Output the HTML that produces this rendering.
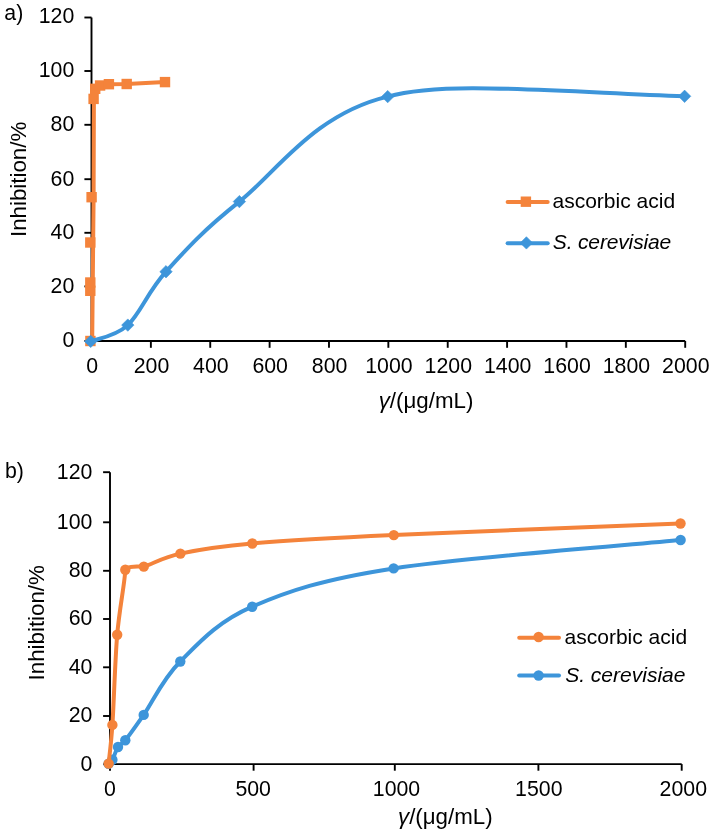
<!DOCTYPE html>
<html><head><meta charset="utf-8"><style>
html,body{margin:0;padding:0;background:#fff;}
svg{display:block;will-change:transform;}
text{font-family:"Liberation Sans",sans-serif;fill:#000;}
</style></head><body>
<svg width="711" height="834" viewBox="0 0 711 834">
<path d="M91.5,17.5 V341.0 H685.20" fill="none" stroke="#000" stroke-width="1.9" stroke-linejoin="miter"/>
<line x1="84.4" y1="340.9" x2="91.5" y2="340.9" stroke="#000" stroke-width="1.9"/>
<text x="74.3" y="347.3" text-anchor="end" font-size="21.3">0</text>
<line x1="84.4" y1="286.4" x2="91.5" y2="286.4" stroke="#000" stroke-width="1.9"/>
<text x="74.3" y="292.8" text-anchor="end" font-size="21.3">20</text>
<line x1="84.4" y1="232.8" x2="91.5" y2="232.8" stroke="#000" stroke-width="1.9"/>
<text x="74.3" y="239.2" text-anchor="end" font-size="21.3">40</text>
<line x1="84.4" y1="179.2" x2="91.5" y2="179.2" stroke="#000" stroke-width="1.9"/>
<text x="74.3" y="185.6" text-anchor="end" font-size="21.3">60</text>
<line x1="84.4" y1="124.8" x2="91.5" y2="124.8" stroke="#000" stroke-width="1.9"/>
<text x="74.3" y="131.2" text-anchor="end" font-size="21.3">80</text>
<line x1="84.4" y1="71.0" x2="91.5" y2="71.0" stroke="#000" stroke-width="1.9"/>
<text x="74.3" y="77.4" text-anchor="end" font-size="21.3">100</text>
<line x1="84.4" y1="17.5" x2="91.5" y2="17.5" stroke="#000" stroke-width="1.9"/>
<text x="74.3" y="23.1" text-anchor="end" font-size="21.3">120</text>
<text x="92.10" y="372.7" text-anchor="middle" font-size="21.3">0</text>
<line x1="150.87" y1="341.0" x2="150.87" y2="347.8" stroke="#000" stroke-width="1.9"/>
<text x="151.47" y="372.7" text-anchor="middle" font-size="21.3">200</text>
<line x1="210.24" y1="341.0" x2="210.24" y2="347.8" stroke="#000" stroke-width="1.9"/>
<text x="210.84" y="372.7" text-anchor="middle" font-size="21.3">400</text>
<line x1="269.61" y1="341.0" x2="269.61" y2="347.8" stroke="#000" stroke-width="1.9"/>
<text x="270.21" y="372.7" text-anchor="middle" font-size="21.3">600</text>
<line x1="328.98" y1="341.0" x2="328.98" y2="347.8" stroke="#000" stroke-width="1.9"/>
<text x="329.58" y="372.7" text-anchor="middle" font-size="21.3">800</text>
<line x1="388.35" y1="341.0" x2="388.35" y2="347.8" stroke="#000" stroke-width="1.9"/>
<text x="388.95" y="372.7" text-anchor="middle" font-size="21.3">1000</text>
<line x1="447.72" y1="341.0" x2="447.72" y2="347.8" stroke="#000" stroke-width="1.9"/>
<text x="448.32" y="372.7" text-anchor="middle" font-size="21.3">1200</text>
<line x1="507.09" y1="341.0" x2="507.09" y2="347.8" stroke="#000" stroke-width="1.9"/>
<text x="507.69" y="372.7" text-anchor="middle" font-size="21.3">1400</text>
<line x1="566.46" y1="341.0" x2="566.46" y2="347.8" stroke="#000" stroke-width="1.9"/>
<text x="567.06" y="372.7" text-anchor="middle" font-size="21.3">1600</text>
<line x1="625.83" y1="341.0" x2="625.83" y2="347.8" stroke="#000" stroke-width="1.9"/>
<text x="626.43" y="372.7" text-anchor="middle" font-size="21.3">1800</text>
<line x1="685.20" y1="341.0" x2="685.20" y2="347.8" stroke="#000" stroke-width="1.9"/>
<text x="685.80" y="372.7" text-anchor="middle" font-size="21.3">2000</text>
<path d="M92.20,341.00 L93.60,197.20 L93.90,98.90 L95.20,88.80 L100.10,85.50 L108.90,84.20 L126.70,84.00 L165.00,82.10" fill="none" stroke="#F4833B" stroke-width="4.0" stroke-linejoin="round" stroke-linecap="round"/>
<rect x="85.20" y="335.80" width="10.4" height="10.4" fill="#F4833B"/>
<rect x="85.10" y="285.60" width="10.4" height="10.4" fill="#F4833B"/>
<rect x="85.10" y="277.30" width="10.4" height="10.4" fill="#F4833B"/>
<rect x="85.10" y="237.30" width="10.4" height="10.4" fill="#F4833B"/>
<rect x="86.40" y="192.00" width="10.4" height="10.4" fill="#F4833B"/>
<rect x="88.40" y="93.70" width="10.4" height="10.4" fill="#F4833B"/>
<rect x="90.00" y="83.60" width="10.4" height="10.4" fill="#F4833B"/>
<rect x="94.90" y="80.30" width="10.4" height="10.4" fill="#F4833B"/>
<rect x="103.70" y="79.00" width="10.4" height="10.4" fill="#F4833B"/>
<rect x="121.50" y="78.80" width="10.4" height="10.4" fill="#F4833B"/>
<rect x="159.80" y="76.90" width="10.4" height="10.4" fill="#F4833B"/>
<path d="M90.70,341.40 C96.88,338.68 115.25,336.72 127.80,325.10 C140.35,313.48 147.40,292.28 166.00,271.70 C184.60,251.12 202.45,230.78 239.40,201.60 C276.35,172.42 313.50,114.15 387.70,96.60 C440.70,81.64 530.40,89.97 684.60,96.30" fill="none" stroke="#3D95DA" stroke-width="4.0" stroke-linejoin="round" stroke-linecap="round"/>
<path d="M90.70,335.20 L96.90,341.40 L90.70,347.60 L84.50,341.40Z" fill="#3D95DA" stroke="#3D95DA" stroke-width="0.6" stroke-linejoin="round"/>
<path d="M127.80,318.90 L134.00,325.10 L127.80,331.30 L121.60,325.10Z" fill="#3D95DA" stroke="#3D95DA" stroke-width="0.6" stroke-linejoin="round"/>
<path d="M166.00,265.50 L172.20,271.70 L166.00,277.90 L159.80,271.70Z" fill="#3D95DA" stroke="#3D95DA" stroke-width="0.6" stroke-linejoin="round"/>
<path d="M239.40,195.40 L245.60,201.60 L239.40,207.80 L233.20,201.60Z" fill="#3D95DA" stroke="#3D95DA" stroke-width="0.6" stroke-linejoin="round"/>
<path d="M387.70,90.40 L393.90,96.60 L387.70,102.80 L381.50,96.60Z" fill="#3D95DA" stroke="#3D95DA" stroke-width="0.6" stroke-linejoin="round"/>
<path d="M684.60,90.10 L690.80,96.30 L684.60,102.50 L678.40,96.30Z" fill="#3D95DA" stroke="#3D95DA" stroke-width="0.6" stroke-linejoin="round"/>
<line x1="507.6" y1="201.9" x2="547.7" y2="201.9" stroke="#F4833B" stroke-width="4.0" stroke-linecap="round"/>
<rect x="520.70" y="196.50" width="10.4" height="10.4" fill="#F4833B"/>
<text x="552.5" y="208.3" font-size="21.0">ascorbic acid</text>
<line x1="507.6" y1="243.2" x2="547.7" y2="243.2" stroke="#3D95DA" stroke-width="4.0" stroke-linecap="round"/>
<path d="M526.40,236.70 L532.60,242.90 L526.40,249.10 L520.20,242.90Z" fill="#3D95DA" stroke="#3D95DA" stroke-width="0.6" stroke-linejoin="round"/>
<text x="552.8" y="249.3" font-size="21.0" font-style="italic" letter-spacing="-0.15">S. cerevisiae</text>
<text x="4.3" y="20.3" font-size="21.3">a)</text>
<text transform="translate(25.9,237.0) rotate(-90)" font-size="22.3">Inhibition/%</text>
<text x="378.7" y="407.6" font-size="22.3"><tspan font-style="italic">γ</tspan>/(μg/mL)</text>
<path d="M110.0,472.2 V764.1 H681.70" fill="none" stroke="#000" stroke-width="1.9"/>
<line x1="103.1" y1="764.1" x2="110.0" y2="764.1" stroke="#000" stroke-width="1.9"/>
<text x="92.4" y="770.5" text-anchor="end" font-size="21.3">0</text>
<line x1="103.1" y1="716.0" x2="110.0" y2="716.0" stroke="#000" stroke-width="1.9"/>
<text x="92.4" y="722.4" text-anchor="end" font-size="21.3">20</text>
<line x1="103.1" y1="667.3" x2="110.0" y2="667.3" stroke="#000" stroke-width="1.9"/>
<text x="92.4" y="673.7" text-anchor="end" font-size="21.3">40</text>
<line x1="103.1" y1="619.0" x2="110.0" y2="619.0" stroke="#000" stroke-width="1.9"/>
<text x="92.4" y="625.4" text-anchor="end" font-size="21.3">60</text>
<line x1="103.1" y1="570.8" x2="110.0" y2="570.8" stroke="#000" stroke-width="1.9"/>
<text x="92.4" y="577.2" text-anchor="end" font-size="21.3">80</text>
<line x1="103.1" y1="522.3" x2="110.0" y2="522.3" stroke="#000" stroke-width="1.9"/>
<text x="92.4" y="528.7" text-anchor="end" font-size="21.3">100</text>
<line x1="103.1" y1="472.2" x2="110.0" y2="472.2" stroke="#000" stroke-width="1.9"/>
<text x="92.4" y="478.6" text-anchor="end" font-size="21.3">120</text>
<line x1="110.00" y1="764.1" x2="110.00" y2="770.7" stroke="#000" stroke-width="1.9"/>
<text x="109.90" y="796.1" text-anchor="middle" font-size="21.3">0</text>
<line x1="253.60" y1="764.1" x2="253.60" y2="770.7" stroke="#000" stroke-width="1.9"/>
<text x="253.20" y="796.1" text-anchor="middle" font-size="21.3">500</text>
<line x1="394.80" y1="764.1" x2="394.80" y2="770.7" stroke="#000" stroke-width="1.9"/>
<text x="396.50" y="796.1" text-anchor="middle" font-size="21.3">1000</text>
<line x1="538.40" y1="764.1" x2="538.40" y2="770.7" stroke="#000" stroke-width="1.9"/>
<text x="538.80" y="796.1" text-anchor="middle" font-size="21.3">1500</text>
<line x1="681.70" y1="764.1" x2="681.70" y2="770.7" stroke="#000" stroke-width="1.9"/>
<text x="683.30" y="796.1" text-anchor="middle" font-size="21.3">2000</text>
<path d="M108.60,763.80 C109.23,763.13 111.05,762.21 112.40,759.80 C113.97,757.00 115.85,750.25 118.00,747.00 C120.15,743.75 122.20,744.17 125.30,740.30 C129.58,734.95 134.72,727.76 143.70,714.90 C152.87,701.77 162.22,679.53 180.30,661.50 C198.38,643.47 216.65,622.22 252.20,606.70 C287.75,591.18 322.20,579.52 393.60,568.40 C465.00,557.28 632.77,544.73 680.60,540.00" fill="none" stroke="#3D95DA" stroke-width="4.0" stroke-linejoin="round" stroke-linecap="round"/>
<circle cx="108.6" cy="763.8" r="5.2" fill="#3D95DA"/>
<circle cx="112.4" cy="759.8" r="5.2" fill="#3D95DA"/>
<circle cx="118.0" cy="747.0" r="5.2" fill="#3D95DA"/>
<circle cx="125.3" cy="740.3" r="5.2" fill="#3D95DA"/>
<circle cx="143.7" cy="714.9" r="5.2" fill="#3D95DA"/>
<circle cx="180.3" cy="661.5" r="5.2" fill="#3D95DA"/>
<circle cx="252.2" cy="606.7" r="5.2" fill="#3D95DA"/>
<circle cx="393.6" cy="568.4" r="5.2" fill="#3D95DA"/>
<circle cx="680.6" cy="540.0" r="5.2" fill="#3D95DA"/>
<path d="M108.60,763.60 C109.23,757.15 111.11,744.30 112.40,724.90 C113.83,703.42 115.05,660.55 117.20,634.70 C119.35,608.85 125.00,581.80 125.30,569.80 C128.30,565.30 137.80,566.90 143.80,566.60 C152.98,563.90 162.32,557.45 180.40,553.60 C198.48,549.75 216.73,546.58 252.30,543.50 C287.87,540.42 323.00,538.41 393.80,535.10 C465.17,531.77 632.72,525.43 680.50,523.50" fill="none" stroke="#F4833B" stroke-width="4.0" stroke-linejoin="round" stroke-linecap="round"/>
<circle cx="108.6" cy="763.6" r="5.2" fill="#F4833B"/>
<circle cx="112.4" cy="724.9" r="5.2" fill="#F4833B"/>
<circle cx="117.2" cy="634.7" r="5.2" fill="#F4833B"/>
<circle cx="125.3" cy="569.8" r="5.2" fill="#F4833B"/>
<circle cx="143.8" cy="566.6" r="5.2" fill="#F4833B"/>
<circle cx="180.4" cy="553.6" r="5.2" fill="#F4833B"/>
<circle cx="252.3" cy="543.5" r="5.2" fill="#F4833B"/>
<circle cx="393.8" cy="535.1" r="5.2" fill="#F4833B"/>
<circle cx="680.5" cy="523.5" r="5.2" fill="#F4833B"/>
<line x1="519.2" y1="637.8" x2="559.0" y2="637.8" stroke="#F4833B" stroke-width="4.0" stroke-linecap="round"/>
<circle cx="538.6" cy="637.0" r="5.2" fill="#F4833B"/>
<text x="564.6" y="644.2" font-size="21.0">ascorbic acid</text>
<line x1="519.2" y1="675.4" x2="559.0" y2="675.4" stroke="#3D95DA" stroke-width="4.0" stroke-linecap="round"/>
<circle cx="538.6" cy="675.5" r="5.2" fill="#3D95DA"/>
<text x="565.2" y="682.4" font-size="21.0" font-style="italic">S. cerevisiae</text>
<text x="5.0" y="477.5" font-size="21.3">b)</text>
<text transform="translate(43.5,680.4) rotate(-90)" font-size="22.3">Inhibition/%</text>
<text x="398.0" y="824.0" font-size="22.3"><tspan font-style="italic">γ</tspan>/(μg/mL)</text>
</svg>
</body></html>
